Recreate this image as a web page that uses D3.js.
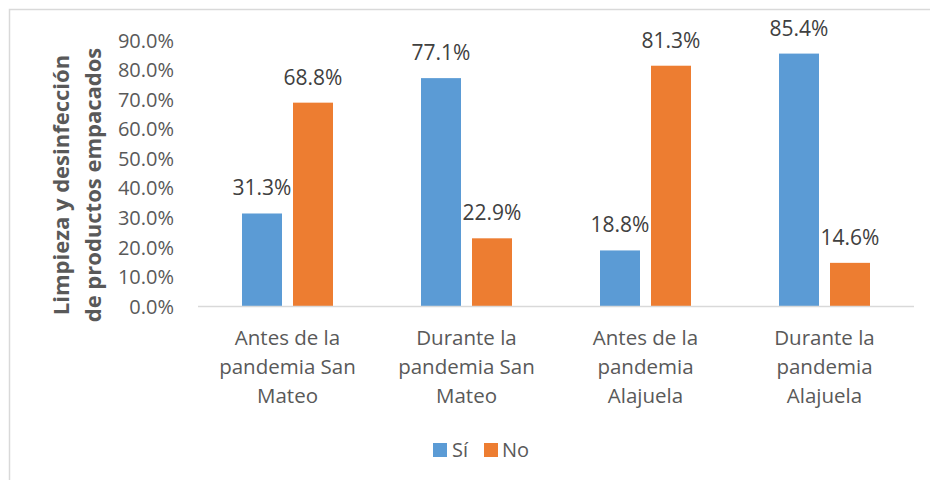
<!DOCTYPE html>
<html>
<head>
<meta charset="utf-8">
<script src="https://cdn.jsdelivr.net/npm/d3@7"></script>
<style>
  html, body { margin: 0; padding: 0; background: #fff; }
  svg { display: block; }
  text { font-family: "Open Sans", sans-serif; fill: #595959; }
</style>
</head>
<body>
<svg id="chart" width="930" height="480"></svg>
<script>
// ---- data ----
const categories = [
  "Antes de la pandemia San Mateo",
  "Durante la pandemia San Mateo",
  "Antes de la pandemia Alajuela",
  "Durante la pandemia Alajuela"
];
const categoryLines = [
  ["Antes de la", "pandemia San", "Mateo"],
  ["Durante la", "pandemia San", "Mateo"],
  ["Antes de la", "pandemia", "Alajuela"],
  ["Durante la", "pandemia", "Alajuela"]
];
const seriesNames = ["Sí", "No"];
const siValues = [0.313, 0.771, 0.188, 0.854];
const noValues = [0.688, 0.229, 0.813, 0.146];
const yTicks = [0, 0.1, 0.2, 0.3, 0.4, 0.5, 0.6, 0.7, 0.8, 0.9];
const yTitleLines = ["Limpieza y desinfección", "de productos empacados"];
const colors = { "Sí": "#5B9BD5", "No": "#ED7D31" };

const seriesValues = { "Sí": siValues, "No": noValues };

const svg = d3.select("#chart");

// outer border (top + left visible)
svg.append("rect")
  .attr("x", 9.5).attr("y", 9.5)
  .attr("width", 940).attr("height", 500)
  .attr("fill", "none")
  .attr("stroke", "#d9d9d9")
  .attr("stroke-width", 1.5);

const x = d3.scaleBand().domain(categories).range([198, 914]);
const xs = d3.scaleBand().domain(seriesNames)
  .range([44, 135]).paddingInner(11 / 51);
const y = d3.scaleLinear().domain([0, 0.9]).range([306, 40]);

const fmt = d3.format(".1%");

// y axis tick labels
const yAxis = d3.axisLeft(y).tickValues(yTicks).tickFormat(fmt).tickSize(0).tickPadding(0);
const yg = svg.append("g").attr("transform", "translate(174,0)").call(yAxis);
yg.select(".domain").remove();
yg.selectAll("text")
  .style("font-family", '"Open Sans", sans-serif')
  .style("font-size", "20px")
  .attr("fill", "#595959")
  .attr("dy", "0.36em");

// bars
const groups = svg.append("g").selectAll("g")
  .data(categories)
  .join("g")
  .attr("transform", d => `translate(${x(d)},0)`);

groups.each(function(cat, i) {
  const g = d3.select(this);
  seriesNames.forEach(s => {
    const v = seriesValues[s][i];
    g.append("rect")
      .attr("x", xs(s))
      .attr("y", y(v))
      .attr("width", xs.bandwidth())
      .attr("height", y(0) - y(v))
      .attr("fill", colors[s]);
    g.append("text")
      .attr("x", xs(s) + xs.bandwidth() / 2)
      .attr("y", y(v) - 18)
      .attr("text-anchor", "middle")
      .style("font-size", "21px")
      .style("fill", "#404040")
      .text(fmt(v));
  });
});

// x axis line
svg.append("line")
  .attr("x1", x.range()[0]).attr("x2", x.range()[1])
  .attr("y1", y(0) + 0.5).attr("y2", y(0) + 0.5)
  .attr("stroke", "#d9d9d9").attr("stroke-width", 1.5);

// category labels
categories.forEach((c, i) => {
  const t = svg.append("text")
    .attr("text-anchor", "middle")
    .style("font-size", "20.5px");
  categoryLines[i].forEach((ln, j) => {
    t.append("tspan")
      .attr("x", x(c) + x.bandwidth() / 2)
      .attr("y", 345 + j * 29)
      .text(ln);
  });
});

// y axis title
const yt = svg.append("text")
  .attr("transform", "translate(0,185) rotate(-90)")
  .attr("text-anchor", "middle")
  .style("font-size", "22px")
  .style("font-weight", "bold");
yTitleLines.forEach((ln, j) => {
  yt.append("tspan").attr("x", 0).attr("y", 69 + j * 32).text(ln);
});

// legend
const legendItems = [
  { name: "Sí", sx: 433, tx: 452 },
  { name: "No", sx: 484, tx: 502 }
];
legendItems.forEach(it => {
  svg.append("rect")
    .attr("x", it.sx).attr("y", 443)
    .attr("width", 14).attr("height", 14)
    .attr("fill", colors[it.name]);
  svg.append("text")
    .attr("x", it.tx).attr("y", 457)
    .style("font-size", "20px")
    .text(it.name);
});
</script>
</body>
</html>
